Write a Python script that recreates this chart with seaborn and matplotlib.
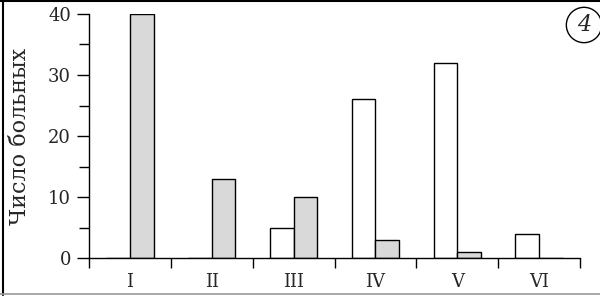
import matplotlib
matplotlib.use("Agg")
import matplotlib.pyplot as plt
import seaborn as sns
import pandas as pd
import numpy as np
from matplotlib.lines import Line2D

categories = ["I", "II", "III", "IV", "V", "VI"]
white_vals = [0, 0, 5, 26, 32, 4]
gray_vals = [40, 13, 10, 3, 1, 0]
series_names = ["белые", "серые"]
y_ticks = [0, 10, 20, 30, 40]
y_label = "Число больных"
badge = "4"

df = pd.DataFrame({
    "cat": categories * 2,
    "val": white_vals + gray_vals,
    "series": [series_names[0]] * len(categories) + [series_names[1]] * len(categories),
})

sns.set_style("white")
plt.rcParams["font.family"] = ["DejaVu Serif"]

fig = plt.figure(figsize=(6.0, 2.96), dpi=100)
ax = fig.add_axes([89/600, 1 - 258/296, 491/600, 244/296])

sns.barplot(data=df, x="cat", y="val", hue="series", order=categories,
            hue_order=series_names, palette=["white", "#d9d9d9"],
            edgecolor="black", linewidth=1.0, width=0.58, ax=ax, legend=False,
            saturation=1)

ax.set_xlim(-0.5, 5.5)
ax.set_ylim(0, 40)
ax.set_yticks(y_ticks)
ax.set_yticks([5, 15, 25, 35], minor=True)
ax.tick_params(axis="y", which="both", left=True)
ax.tick_params(axis="y", which="major", length=9, width=1, labelsize=13, pad=4, direction="out", color="black")
ax.tick_params(axis="y", which="minor", length=7, width=1, direction="out", color="black")
ax.set_xticks(range(len(categories)))
ax.set_xticklabels(categories)
ax.tick_params(axis="x", which="both", bottom=True)
ax.tick_params(axis="x", which="major", length=0, labelsize=13, pad=11)
ax.set_xticks(np.arange(-0.5, 6.0, 1.0), minor=True)
ax.tick_params(axis="x", which="minor", length=7, width=1, direction="out", color="black")
ax.set_xlabel("")
ax.set_ylabel(y_label, fontsize=16)
ax.yaxis.set_label_coords(-0.118, 0.5)

for s in ["top", "right"]:
    ax.spines[s].set_visible(False)
for s in ["left", "bottom"]:
    ax.spines[s].set_color("black")
    ax.spines[s].set_linewidth(1.0)

# scanned frame lines
fig.add_artist(Line2D([3/600, 3/600], [0.005, 0.998], color="black", lw=1.5, transform=fig.transFigure))
fig.add_artist(Line2D([0, 1], [0.997, 0.997], color="black", lw=1.5, transform=fig.transFigure))
fig.add_artist(Line2D([0, 1], [1 - 294/296, 1 - 294/296], color="#999999", lw=1.2, transform=fig.transFigure))

fig.text(584/600, 1 - 25/296, badge, fontsize=16, style="italic", ha="center", va="center",
         bbox=dict(boxstyle="circle,pad=0.3", fc="white", ec="black", lw=1.0))

fig.savefig("out.png", dpi=100)
